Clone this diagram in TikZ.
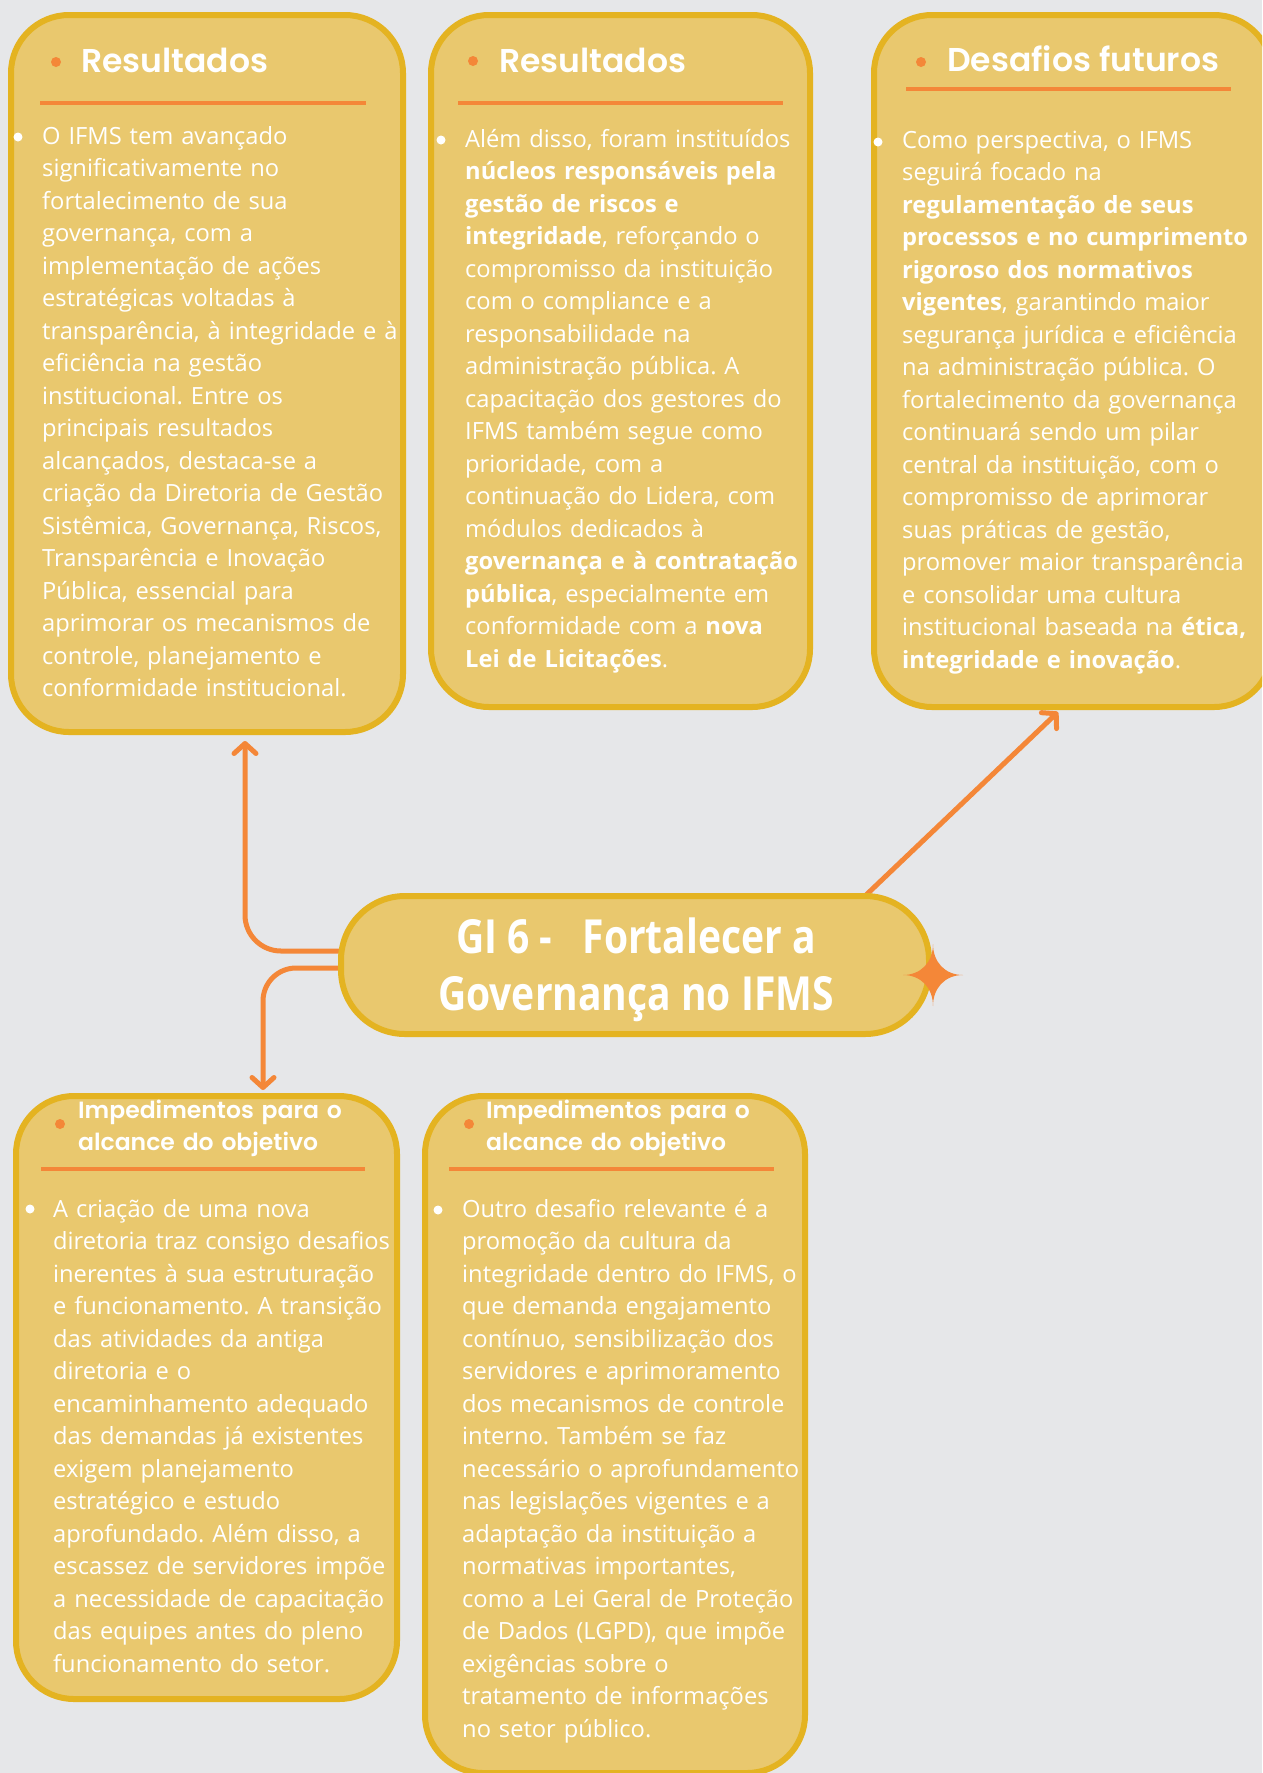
\documentclass[tikz,border=0pt]{standalone}
\usepackage{fontspec}
\setmainfont{Open Sans}
\newfontfamily\headfont{Poppins SemiBold}
\newfontfamily\hubfont{Open Sans}[FakeStretch=0.83]
\usetikzlibrary{arrows.meta,calc}
\definecolor{bg}{RGB}{230,231,233}
\definecolor{boxfill}{RGB}{233,200,110}
\definecolor{boxline}{RGB}{228,179,33}
\definecolor{accent}{RGB}{244,135,56}
\frenchspacing
\tikzset{
  panel/.style={draw=boxline, fill=boxfill, line width=6pt, rounded corners=58pt, inner sep=0pt, outer sep=0pt},
  hub/.style={panel, rounded corners=64pt, text=white, align=center, font=\hubfont\bfseries\fontsize{47}{57}\selectfont},
  headtxt/.style={text=white, font=\headfont\fontsize{33}{40}\selectfont, anchor=base west, inner sep=0pt},
  subhead/.style={text=white, font=\headfont\fontsize{23.5}{32}\selectfont, anchor=base west, inner sep=0pt, text width=330pt, align=left},
  bodytxt/.style={text=white, font=\fontsize{23.7}{32.5}\selectfont, anchor=base west, inner sep=0pt, text width=420pt, align=left},
  seprule/.style={draw=accent, line width=4pt},
  hdot/.style={fill=accent},
  bul/.style={fill=white},
  conn/.style={draw=accent, line width=5pt, line cap=round, line join=round, -{Straight Barb[length=10pt,width=22pt,round]}},
}
\begin{document}
\begin{tikzpicture}[x=1pt,y=-1pt]
\useasboundingbox (0,0) rectangle (1262,1773);
\clip (0,0) rectangle (1262,1773);
\fill[bg] (0,0) rectangle (1262,1773);

% panels
\node[panel, minimum width=392pt, minimum height=717pt] (b1) at (207,373.5) {};
\node[panel, minimum width=379pt, minimum height=692pt] (b2) at (620.5,361) {};
\node[panel, minimum width=398pt, minimum height=692pt] (b3) at (1073,361) {};
\node[panel, minimum width=381pt, minimum height=603pt] (b4) at (206.5,1397.5) {};
\node[panel, minimum width=380pt, minimum height=677pt] (b5) at (615,1434.5) {};

% headers
\fill[hdot] (56,62) circle (5);
\node[headtxt] (h1) at (81,72) {Resultados};
\draw[seprule] (40,103) -- (366,103);

\fill[hdot] (473,61) circle (5);
\node[headtxt] (h2) at (499,72) {Resultados};
\draw[seprule] (458,103) -- (783,103);

\fill[hdot] (921,62) circle (5);
\node[headtxt] (h3) at (947,71) {Desafios futuros};
\draw[seprule] (906,89) -- (1231,89);

\fill[hdot] (60,1124) circle (5);
\node[subhead] (h4) at (78,1118) {Impedimentos para o\\alcance do objetivo};
\draw[seprule] (41,1169) -- (365,1169);

\fill[hdot] (469,1124) circle (5);
\node[subhead] (h5) at (486,1118) {Impedimentos para o\\alcance do objetivo};
\draw[seprule] (449,1169) -- (774,1169);

% bullets
\fill[bul] (18,137) circle (4.5);
\fill[bul] (441,140) circle (4.5);
\fill[bul] (878,142) circle (4.5);
\fill[bul] (30,1209) circle (4.5);
\fill[bul] (438,1210) circle (4.5);

% body texts
\node[bodytxt] (t1) at (42,144) {O IFMS tem avançado\\
significativamente no\\
fortalecimento de sua\\
governança, com a\\
implementação de ações\\
estratégicas voltadas à\\
transparência, à integridade e à\\
eficiência na gestão\\
institucional. Entre os\\
principais resultados\\
alcançados, destaca-se a\\
criação da Diretoria de Gestão\\
Sistêmica, Governança, Riscos,\\
Transparência e Inovação\\
Pública, essencial para\\
aprimorar os mecanismos de\\
controle, planejamento e\\
conformidade institucional.};

\node[bodytxt] (t2) at (465,147) {Além disso, foram instituídos\\
\textbf{núcleos responsáveis pela}\\
\textbf{gestão de riscos e}\\
\textbf{integridade}, reforçando o\\
compromisso da instituição\\
com o compliance e a\\
responsabilidade na\\
administração pública. A\\
capacitação dos gestores do\\
IFMS também segue como\\
prioridade, com a\\
continuação do Lidera, com\\
módulos dedicados à\\
\textbf{governança e à contratação}\\
\textbf{pública}, especialmente em\\
conformidade com a \textbf{nova}\\
\textbf{Lei de Licitações}.};

\node[bodytxt] (t3) at (902,148) {Como perspectiva, o IFMS\\
seguirá focado na\\
\textbf{regulamentação de seus}\\
\textbf{processos e no cumprimento}\\
\textbf{rigoroso dos normativos}\\
\textbf{vigentes}, garantindo maior\\
segurança jurídica e eficiência\\
na administração pública. O\\
fortalecimento da governança\\
continuará sendo um pilar\\
central da instituição, com o\\
compromisso de aprimorar\\
suas práticas de gestão,\\
promover maior transparência\\
e consolidar uma cultura\\
institucional baseada na \textbf{ética,}\\
\textbf{integridade e inovação}.};

\node[bodytxt] (t4) at (53,1217) {A criação de uma nova\\
diretoria traz consigo desafios\\
inerentes à sua estruturação\\
e funcionamento. A transição\\
das atividades da antiga\\
diretoria e o\\
encaminhamento adequado\\
das demandas já existentes\\
exigem planejamento\\
estratégico e estudo\\
aprofundado. Além disso, a\\
escassez de servidores impõe\\
a necessidade de capacitação\\
das equipes antes do pleno\\
funcionamento do setor.};

\node[bodytxt] (t5) at (462,1217) {Outro desafio relevante é a\\
promoção da cultura da\\
integridade dentro do IFMS, o\\
que demanda engajamento\\
contínuo, sensibilização dos\\
servidores e aprimoramento\\
dos mecanismos de controle\\
interno. Também se faz\\
necessário o aprofundamento\\
nas legislações vigentes e a\\
adaptação da instituição a\\
normativas importantes,\\
como a Lei Geral de Proteção\\
de Dados (LGPD), que impõe\\
exigências sobre o\\
tratamento de informações\\
no setor público.};

% hub geometry (for connectors)
\coordinate (hubc) at (635,965);
\path (hubc) node[minimum width=588pt, minimum height=138pt, inner sep=0pt, outer sep=0pt] (c) {};

% connectors
\draw[conn, rounded corners=36pt] ($(c.west)+(0,-14)$) -| ($(b1.south)+(38,9)$);
\draw[conn, rounded corners=33pt] ($(c.west)+(0,3)$) -| ($(b4.north)+(56.5,-6)$);
\draw[conn] ($(c.north east)+(-64,0)$) -- ($(b3.south west)+(184,5)$);

% hub
\node[hub, minimum width=588pt, minimum height=138pt] (hub) at (hubc) {};
\node[text=white, align=center, font=\hubfont\bfseries\fontsize{47}{57}\selectfont, inner sep=0pt] (hubtxt) at ($(hubc)+(1,5)$) {GI 6 -\ \ \ Fortalecer a\\Governança no IFMS};

% star
\fill[accent] (933,944) .. controls (933,962) and (945,975) .. (963,975)
  .. controls (945,975) and (933,988) .. (933,1006)
  .. controls (933,988) and (921,975) .. (903,975)
  .. controls (921,975) and (933,962) .. (933,944) -- cycle;
\end{tikzpicture}
\end{document}
